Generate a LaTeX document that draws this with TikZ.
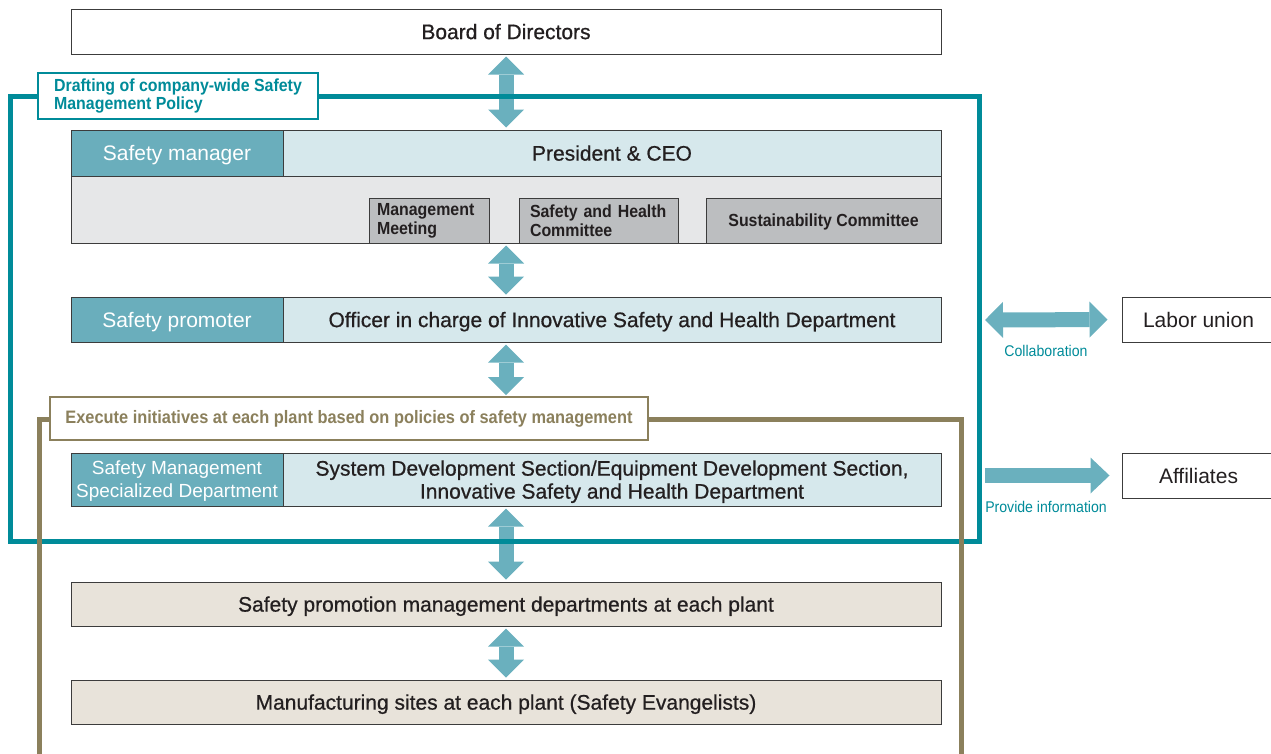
\documentclass[tikz,border=0pt]{standalone}
\usepackage{fontspec}
\setmainfont{Liberation Sans}
\newfontfamily\medfont[FakeBold=0.7]{Liberation Sans}
\newfontfamily\condfont[FakeStretch=0.91]{Liberation Sans}
\usetikzlibrary{arrows.meta}
\definecolor{frameteal}{RGB}{0,139,153}
\definecolor{arrowteal}{RGB}{106,176,190}
\definecolor{headteal}{RGB}{106,174,188}
\definecolor{lightblue}{RGB}{214,232,236}
\definecolor{panelgray}{RGB}{230,231,232}
\definecolor{cmtgray}{RGB}{188,190,192}
\definecolor{olive}{RGB}{139,128,92}
\definecolor{beige}{RGB}{232,227,218}
\definecolor{edgegray}{RGB}{60,60,60}
\definecolor{inkgray}{RGB}{35,31,32}

\begin{document}
\begin{tikzpicture}[x=1pt,y=-1pt,
  box/.style={draw=edgegray,line width=1pt,inner sep=0pt,text depth=0pt,text=inkgray,font=\medfont\fontsize{21}{23}\selectfont},
  headcell/.style={box,fill=headteal,text=white,minimum width=212pt,font=\fontsize{21}{23}\selectfont},
  bodycell/.style={box,fill=lightblue,minimum width=658pt},
  widebox/.style={box,fill=beige,minimum width=870pt,minimum height=44pt},
  sidebox/.style={box,fill=white,minimum width=153pt,minimum height=45pt,font=\fontsize{21}{23}\selectfont},
  cmtbox/.style={draw=edgegray,line width=1pt,fill=cmtgray,text=inkgray,inner sep=0pt,minimum height=45pt,font=\condfont\bfseries\fontsize{17.5}{19}\selectfont},
  tagbox/.style={fill=white,line width=2.5pt,inner sep=0pt,font=\condfont\bfseries\fontsize{18}{18}\selectfont},
  flowtag/.style={text=frameteal,inner sep=0pt,font=\condfont\fontsize{15.5}{18}\selectfont},
  flow/.style={draw=arrowteal,line width=15pt,shorten <=2pt,shorten >=2pt},
  both/.style={flow,{Triangle[width=36pt,length=18pt,line width=0pt]}-{Triangle[width=36pt,length=18pt,line width=0pt]}},
  oneway/.style={flow,-{Triangle[width=36pt,length=19pt,line width=0pt]}}]
\useasboundingbox (0,0) rectangle (1271,753);
% management rows
\node[box,fill=white,minimum width=870pt,minimum height=45pt] (board) at (506,31.5) {Board of Directors};
\node[box,fill=panelgray,minimum width=870pt,minimum height=67pt] (panel) at (506,209.5) {};
\node[headcell,minimum height=46pt] (mgr) at (177,153) {Safety manager};
\node[bodycell,minimum height=46pt] (ceo) at (612,153) {President \& CEO};
\node[cmtbox,minimum width=120pt,text width=104pt,align=left] (meeting) at (429,220.5) {Management\\Meeting};
\node[cmtbox,minimum width=159pt,text width=137pt,align=left] (shc) at (598.5,220.5) {Safety and Health\\Committee};
\node[cmtbox,minimum width=235pt,text depth=0pt] (sust) at (823.5,220.5) {Sustainability Committee};
\node[headcell,minimum height=45pt] (promoter) at (177,319.5) {Safety promoter};
\node[bodycell,minimum height=45pt] (officer) at (612,319.5) {Officer in charge of Innovative Safety and Health Department};
\node[headcell,minimum height=53pt,align=center,font=\fontsize{19}{23}\selectfont] (special) at (177,479.5) {Safety Management\\Specialized Department};
\node[bodycell,minimum height=53pt,align=center] (sysdev) at (612,479.5) {System Development Section/Equipment Development Section,\\Innovative Safety and Health Department};
\node[widebox] (plantdep) at (506,604) {Safety promotion management departments at each plant};
\node[widebox] (sites) at (506,702) {Manufacturing sites at each plant (Safety Evangelists)};
% outside parties
\node[sidebox] (union) at (1198.5,319.5) {Labor union};
\node[sidebox] (affil) at (1198.5,475.5) {Affiliates};
\coordinate (collab) at (985,320);
\coordinate (inform) at (985,475.5);
\coordinate (olabeltop) at (506,397);
% arrows
\draw[both] (board.south) -- (board.south |- mgr.north);
\draw[both] (panel.south) -- (panel.south |- officer.north);
\draw[both] (panel.south |- officer.south) -- (olabeltop);
\draw[both] (panel.south |- sysdev.south) -- (plantdep.north);
\draw[both] (plantdep.south) -- (sites.north);
\draw[both,shorten <=0pt,shorten >=14pt] (collab) -- (union.west);
\draw[oneway,shorten <=0pt,shorten >=12pt] (inform) -- (affil.west);
\node[flowtag] at (1046,351) {Collaboration};
\node[flowtag] at (1046,507) {Provide information};
% frames
\draw[frameteal,line width=5pt] (10,96) rectangle (979,541);
\draw[olive,line width=5pt] (39,770) -- (39,419) -- (961,419) -- (961,770);
\node[tagbox,draw=frameteal,text=frameteal,minimum width=280pt,minimum height=46pt,align=left,font=\condfont\bfseries\fontsize{17.5}{18}\selectfont] (policy) at (178,96) {Drafting of company-wide Safety\\Management Policy};
\node[tagbox,draw=olive,text=olive,minimum width=598pt,minimum height=43pt] (olabel) at (349,418.5) {Execute initiatives at each plant based on policies of safety management};
\end{tikzpicture}
\end{document}
